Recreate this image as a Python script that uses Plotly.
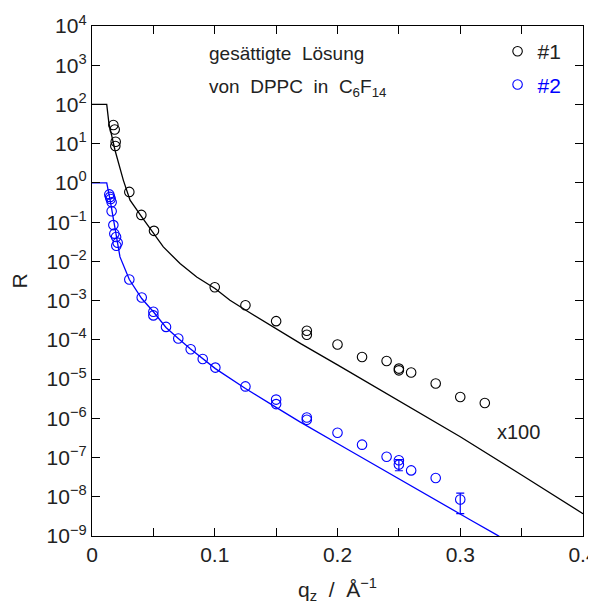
import plotly.graph_objects as go

# ---- data ----
q1 = [0.0174, 0.0185, 0.0193, 0.019, 0.0304, 0.0402, 0.0505, 0.100, 0.125, 0.150,
      0.175, 0.175, 0.200, 0.220, 0.240, 0.250, 0.250, 0.260, 0.280, 0.300, 0.320]
R1 = [30, 23, 11.2, 8.7, 0.59, 0.153, 0.060, 2.2e-3, 7.6e-4, 3.0e-4,
      1.7e-4, 1.35e-4, 7.6e-5, 3.66e-5, 2.9e-5, 1.85e-5, 1.67e-5, 1.47e-5, 7.7e-6, 3.5e-6, 2.45e-6]

q2 = [0.0141, 0.0147, 0.0152, 0.0160, 0.0160, 0.0174, 0.0182, 0.0196, 0.0209, 0.0198,
      0.0304, 0.0405, 0.050, 0.050, 0.0603, 0.0703, 0.0804, 0.0902, 0.1005, 0.125,
      0.150, 0.150, 0.175, 0.175, 0.200, 0.220, 0.240, 0.250, 0.260, 0.280]
R2 = [0.51, 0.44, 0.39, 0.32, 0.19, 0.084, 0.051, 0.042, 0.030, 0.025,
      3.45e-3, 1.2e-3, 5.2e-4, 4.2e-4, 2.14e-4, 1.08e-4, 5.75e-5, 3.26e-5, 1.96e-5, 6.5e-6,
      3.0e-6, 2.3e-6, 1.05e-6, 9.2e-7, 4.3e-7, 2.13e-7, 1.05e-7, 8.5e-8, 4.7e-8, 3.0e-8]

# blue points carrying error bars
q2e = [0.250, 0.300]
R2e = [6.6e-8, 8.5e-9]
R2e_plus = [2.2e-8, 3.9e-9]
R2e_minus = [2.0e-8, 4.8e-9]

# fitted curves
fit1_q = [0.0, 0.012, 0.0138, 0.0187, 0.0255, 0.031, 0.0405, 0.050, 0.0581, 0.0717,
          0.0853, 0.1002, 0.1124, 0.126, 0.150, 0.170, 0.200, 0.250, 0.300, 0.350, 0.400]
fit1_R = [100, 100, 33, 6.9, 1.18, 0.364, 0.136, 0.051, 0.0234, 8.8e-3,
          4.0e-3, 2.04e-3, 1.02e-3, 5.5e-4, 1.9e-4, 8.0e-5, 2.3e-5, 2.8e-6, 3.4e-7, 3.6e-8, 3.7e-9]

fit2_q = [0.0, 0.012, 0.0147, 0.0174, 0.0201, 0.0228, 0.0304, 0.0405, 0.050, 0.0603,
          0.0703, 0.0798, 0.1005, 0.125, 0.150, 0.1694, 0.2088, 0.2346, 0.2672, 0.308, 0.329, 0.340]
fit2_R = [1, 1, 0.375, 0.112, 0.0348, 0.013, 3.45e-3, 1.13e-3, 5.2e-4, 2.06e-4,
          1.08e-4, 6.0e-5, 1.85e-5, 5.75e-6, 1.9e-6, 8.1e-7, 1.58e-7, 5.5e-8, 1.45e-8, 2.6e-9, 1.1e-9, 6.9e-10]

x_tickvals = [0, 0.05, 0.1, 0.15, 0.2, 0.25, 0.3, 0.35, 0.4]
x_ticktext = ["0", "", "0.1", "", "0.2", "", "0.3", "", "0.4"]
y_exponents = list(range(-9, 5))
y_tickvals = [10.0 ** e for e in y_exponents]
y_ticktext = ["10<sup>" + (str(e) if e >= 0 else "\u2212" + str(-e)) + "</sup>" for e in y_exponents]

BLACK = "#000000"
BLUE = "#0000ff"
FONT = "Liberation Sans, Arial, sans-serif"
TXT = "#222222"

fig = go.Figure()
fig.add_trace(go.Scatter(x=fit1_q, y=fit1_R, mode="lines", line=dict(color=BLACK, width=1.3),
                         showlegend=False, hoverinfo="skip"))
fig.add_trace(go.Scatter(x=fit2_q, y=fit2_R, mode="lines", line=dict(color=BLUE, width=1.3),
                         showlegend=False, hoverinfo="skip"))
fig.add_trace(go.Scatter(x=q1, y=R1, mode="markers", name="#1", legendgroup="a",
                         marker=dict(symbol="circle-open", size=9.5, color=BLACK, line=dict(width=1.1))))
fig.add_trace(go.Scatter(x=q2, y=R2, mode="markers", name='<span style="color:#0000ff">#2</span>',
                         legendgroup="b",
                         marker=dict(symbol="circle-open", size=9.5, color=BLUE, line=dict(width=1.1))))
fig.add_trace(go.Scatter(x=q2e, y=R2e, mode="markers", showlegend=False,
                         marker=dict(symbol="circle-open", size=9.5, color=BLUE, line=dict(width=1.1)),
                         error_y=dict(type="data", symmetric=False, array=R2e_plus, arrayminus=R2e_minus,
                                      color=BLUE, thickness=1.2, width=4)))

fig.update_xaxes(range=[0, 0.4], tickvals=x_tickvals, ticktext=x_ticktext,
                 ticks="inside", ticklen=8, tickwidth=1.2, tickcolor=BLACK,
                 showline=True, linecolor=BLACK, linewidth=1.3, mirror="ticks",
                 showgrid=False, zeroline=False, automargin=False,
                 ticklabeloverflow="allow",
                 tickfont=dict(family=FONT, size=21, color=TXT),
                 title=dict(text="q<sub>z</sub>  /  Å<sup>\u22121</sup>",
                            font=dict(family=FONT, size=21, color=TXT), standoff=16))
fig.update_yaxes(type="log", range=[-9, 4], tickvals=y_tickvals, ticktext=y_ticktext,
                 ticks="inside", ticklen=8, tickwidth=1.2, tickcolor=BLACK,
                 showline=True, linecolor=BLACK, linewidth=1.3, mirror="ticks",
                 showgrid=False, zeroline=False, automargin=False,
                 ticklabeloverflow="allow",
                 tickfont=dict(family=FONT, size=21, color=TXT),
                 title=dict(text="R", font=dict(family=FONT, size=21, color=TXT), standoff=14))

fig.add_annotation(xref="paper", yref="paper", x=0.234, y=0.947, xanchor="left", yanchor="middle",
                   text="gesättigte  Lösung", showarrow=False,
                   font=dict(family=FONT, size=19, color=TXT))
fig.add_annotation(xref="paper", yref="paper", x=0.234, y=0.878, xanchor="left", yanchor="middle",
                   text="von  DPPC  in  C<sub>6</sub>F<sub>14</sub>", showarrow=False,
                   font=dict(family=FONT, size=19, color=TXT))
fig.add_annotation(xref="paper", yref="paper", x=0.868, y=0.204, xanchor="center", yanchor="middle",
                   text="x100", showarrow=False,
                   font=dict(family=FONT, size=20, color=TXT))

# page body adds an 8px margin, so the figure is 8px smaller than the window
fig.update_layout(
    width=588, height=602,
    margin=dict(l=84, r=13, t=18, b=74),
    paper_bgcolor="white", plot_bgcolor="white",
    font=dict(family=FONT, size=20, color=TXT),
    showlegend=True,
    legend=dict(x=0.826, y=0.99, xanchor="left", yanchor="top", bgcolor="rgba(0,0,0,0)",
                font=dict(family=FONT, size=21, color=TXT), tracegroupgap=3,
                itemwidth=30),
)

fig.write_html("out.html")
